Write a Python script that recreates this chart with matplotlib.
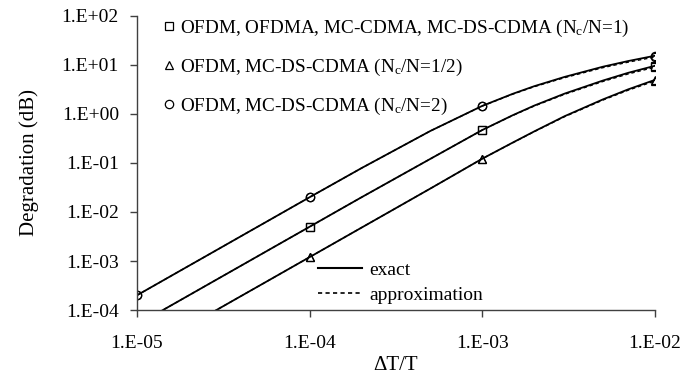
import matplotlib
matplotlib.use("Agg")
import matplotlib.pyplot as plt
from matplotlib.lines import Line2D

plt.rcParams['font.family'] = ['Liberation Serif', 'DejaVu Serif']
plt.rcParams['mathtext.fontset'] = 'custom'
plt.rcParams['mathtext.rm'] = 'Liberation Serif'
plt.rcParams['mathtext.it'] = 'Liberation Serif:italic'

# data
dt = [1e-5, 2e-5, 5e-5, 1e-4, 2e-4, 5e-4, 1e-3, 1.5e-3, 2e-3, 3e-3, 5e-3, 7e-3, 1e-2]
decades = [0, 3, 6, 12]   # indices carrying markers

sq_exact = [5e-5, 2e-4, 1.25e-3, 0.005, 0.02, 0.121, 0.47, 0.94, 1.48, 2.6, 4.8, 6.9, 9.6]
sq_approx = [5e-5, 2e-4, 1.25e-3, 0.005, 0.02, 0.121, 0.47, 0.93, 1.45, 2.52, 4.6, 6.55, 9.0]
tri_exact = [1.2e-5, 4.8e-5, 3e-4, 1.2e-3, 0.0048, 0.030, 0.122, 0.26, 0.44, 0.90, 1.98, 3.17, 4.95]
tri_approx = [1.2e-5, 4.8e-5, 3e-4, 1.2e-3, 0.0048, 0.030, 0.122, 0.258, 0.435, 0.88, 1.92, 3.05, 4.7]
ci_exact = [2e-4, 8e-4, 5e-3, 0.02, 0.0787, 0.449, 1.46, 2.57, 3.68, 5.7, 9.2, 12.0, 15.4]
ci_approx = [2e-4, 8e-4, 5e-3, 0.02, 0.0787, 0.449, 1.45, 2.53, 3.6, 5.5, 8.8, 11.4, 14.5]

labels = [r'OFDM, OFDMA, MC-CDMA, MC-DS-CDMA (N$_\mathrm{c}$/N=1)',
          r'OFDM, MC-DS-CDMA (N$_\mathrm{c}$/N=1/2)',
          r'OFDM, MC-DS-CDMA (N$_\mathrm{c}$/N=2)']
xticks = [1e-5, 1e-4, 1e-3, 1e-2]
xticklabels = ['1.E-05', '1.E-04', '1.E-03', '1.E-02']
yticks = [1e-4, 1e-3, 1e-2, 1e-1, 1e0, 1e1, 1e2]
yticklabels = ['1.E-04', '1.E-03', '1.E-02', '1.E-01', '1.E+00', '1.E+01', '1.E+02']

fig = plt.figure(figsize=(6.85, 3.79), dpi=100)
ax = fig.add_axes([0.2, 0.182, 0.756, 0.776])

series = [(sq_exact, sq_approx, 's'), (tri_exact, tri_approx, '^'), (ci_exact, ci_approx, 'o')]
for ex, ap, m in series:
    ax.plot(dt, ap, color='black', lw=1.0, ls=(0, (2.5, 2)), marker=m, markevery=decades,
            ms=6, mfc='none', mec='black', mew=0.9)
    ax.plot(dt, ex, color='black', lw=1.3, marker=m, markevery=decades,
            ms=6, mfc='none', mec='black', mew=0.9)

ax.set_xscale('log')
ax.set_yscale('log')
ax.set_xlim(1e-5, 1e-2)
ax.set_ylim(1e-4, 1e2)
ax.set_xticks(xticks)
ax.set_xticklabels(xticklabels)
ax.set_yticks(yticks)
ax.set_yticklabels(yticklabels)
ax.minorticks_off()
ax.tick_params(labelsize=14, color='#404040', length=5, width=1, direction='out')
ax.tick_params(axis='y', pad=8)
ax.tick_params(axis='x', pad=13)
for s in ['top', 'right']:
    ax.spines[s].set_visible(False)
for s in ['left', 'bottom']:
    ax.spines[s].set_color('#404040')
    ax.spines[s].set_linewidth(1)

ax.set_xlabel('ΔT/T', fontsize=15, labelpad=3)
ax.set_ylabel('Degradation (dB)', fontsize=15, labelpad=16)

# marker legend
mk_handles = [Line2D([], [], ls='none', marker=m, ms=6, mfc='none', mec='black', mew=0.9)
              for _, _, m in series]
leg1 = ax.legend(mk_handles, labels, loc='upper left', bbox_to_anchor=(0.05, 0.995),
                 frameon=False, fontsize=13.8, handlelength=0.6, handletextpad=0.3,
                 labelspacing=0.95, borderaxespad=0, borderpad=0)
ax.add_artist(leg1)

ln_handles = [Line2D([], [], color='black', lw=1.5),
              Line2D([], [], color='black', lw=1.2, ls=(0, (2.5, 2)))]
ax.legend(ln_handles, ['exact', 'approximation'], loc='upper left',
          bbox_to_anchor=(0.349, 0.165), frameon=False, fontsize=14,
          handlelength=2.3, handletextpad=0.35, labelspacing=0.35,
          borderaxespad=0, borderpad=0)

fig.savefig('out.png', dpi=100)
